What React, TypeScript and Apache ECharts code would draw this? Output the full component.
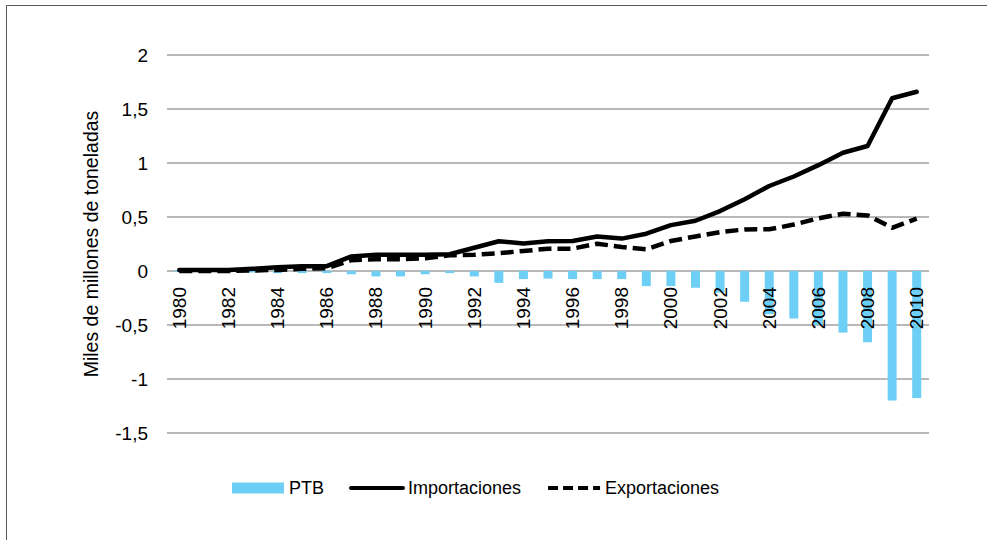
import React, { useEffect, useRef } from "react";
import * as echarts from "echarts";

const years = [
  "1980", "1981", "1982", "1983", "1984", "1985", "1986", "1987", "1988", "1989",
  "1990", "1991", "1992", "1993", "1994", "1995", "1996", "1997", "1998", "1999",
  "2000", "2001", "2002", "2003", "2004", "2005", "2006", "2007", "2008", "2009", "2010",
];

const ptb = [
  -0.01, -0.01, -0.01, -0.015, -0.02, -0.02, -0.02, -0.03, -0.05, -0.05,
  -0.03, -0.02, -0.05, -0.11, -0.075, -0.07, -0.075, -0.075, -0.075, -0.14,
  -0.14, -0.155, -0.2, -0.285, -0.4, -0.44, -0.5, -0.57, -0.66, -1.2, -1.175,
];

const importaciones = [
  0.01, 0.01, 0.01, 0.02, 0.035, 0.045, 0.045, 0.135, 0.15, 0.15,
  0.15, 0.155, 0.215, 0.275, 0.255, 0.275, 0.278, 0.32, 0.3, 0.345,
  0.425, 0.465, 0.555, 0.665, 0.787, 0.875, 0.98, 1.095, 1.157, 1.6, 1.66,
];

const exportaciones = [
  0.0, 0.0, 0.0, 0.005, 0.01, 0.02, 0.025, 0.1, 0.108, 0.108,
  0.117, 0.145, 0.15, 0.165, 0.185, 0.207, 0.207, 0.253, 0.222, 0.2,
  0.278, 0.32, 0.36, 0.385, 0.386, 0.43, 0.488, 0.53, 0.515, 0.4, 0.485,
];

const Y_MIN = -1.5;
const Y_MAX = 2;
const FONT = "'Liberation Sans', Arial, sans-serif";

const GRID_TOP = 55;
const GRID_BOTTOM = 107;
const GRID_H = 540 - GRID_TOP - GRID_BOTTOM;

export default function App() {
  const ref = useRef<HTMLDivElement>(null);

  useEffect(() => {
    if (!ref.current) return;
    const chart = echarts.init(ref.current, undefined, { renderer: "svg" });
    // shift the category axis (labels) up to the value 0 line
    const zeroOffset = -((0 - Y_MIN) / (Y_MAX - Y_MIN)) * GRID_H;
    chart.setOption({
      animation: false,
      backgroundColor: "#ffffff",
      graphic: [
        {
          type: "rect",
          shape: { x: 6.5, y: 5.5, width: 1000, height: 600 },
          style: { fill: "none", stroke: "#595959", lineWidth: 1 },
          silent: true,
          z: 100,
        },
      ],
      grid: { left: 167, right: 58, top: GRID_TOP, bottom: GRID_BOTTOM, containLabel: false },
      legend: {
        left: 232,
        top: 479,
        padding: 0,
        itemWidth: 52,
        itemHeight: 11,
        itemGap: 25,
        textStyle: { fontFamily: FONT, fontSize: 18, color: "#000" },
        data: [
          { name: "PTB", icon: "rect" },
          {
            name: "Importaciones",
            itemStyle: { opacity: 0 },
            lineStyle: { width: 4, color: "#000" },
          },
          {
            name: "Exportaciones",
            itemStyle: { opacity: 0 },
            lineStyle: { width: 4, color: "#000", type: [10, 5] },
          },
        ],
      },
      xAxis: {
        type: "category",
        data: years,
        boundaryGap: true,
        z: 5,
        offset: zeroOffset,
        axisLine: { show: false, onZero: false },
        axisTick: { show: false },
        axisLabel: {
          interval: 1,
          rotate: 90,
          margin: 16,
          fontFamily: FONT,
          fontSize: 19,
          color: "#000",
        },
        splitLine: { show: false },
      },
      yAxis: {
        type: "value",
        min: Y_MIN,
        max: Y_MAX,
        interval: 0.5,
        name: "Miles de millones de toneladas",
        nameLocation: "middle",
        nameGap: 66,
        nameRotate: 90,
        nameTextStyle: { fontFamily: FONT, fontSize: 19.5, color: "#000" },
        axisLine: { show: false },
        axisTick: { show: false },
        axisLabel: {
          margin: 19,
          fontFamily: FONT,
          fontSize: 19,
          color: "#000",
          formatter: (v: number) => String(v).replace(".", ","),
        },
        splitLine: { show: true, lineStyle: { color: "#b8b8b8", width: 2 } },
      },
      series: [
        {
          name: "PTB",
          type: "bar",
          data: ptb,
          barWidth: 9,
          itemStyle: { color: "#6dcff6" },
        },
        {
          name: "Importaciones",
          type: "line",
          data: importaciones,
          symbol: "none",
          showSymbol: false,
          z: 3,
          lineStyle: { color: "#000", width: 4.5, cap: "round", join: "round" },
          itemStyle: { color: "#000" },
        },
        {
          name: "Exportaciones",
          type: "line",
          data: exportaciones,
          symbol: "none",
          showSymbol: false,
          z: 3,
          lineStyle: { color: "#000", width: 4.5, type: [13, 6], cap: "butt", join: "round" },
          itemStyle: { color: "#000" },
        },
      ],
    });
    return () => chart.dispose();
  }, []);

  return (
    <div
      ref={ref}
      style={{ position: "fixed", left: 0, top: 0, width: 987, height: 540, background: "#fff" }}
    />
  );
}
